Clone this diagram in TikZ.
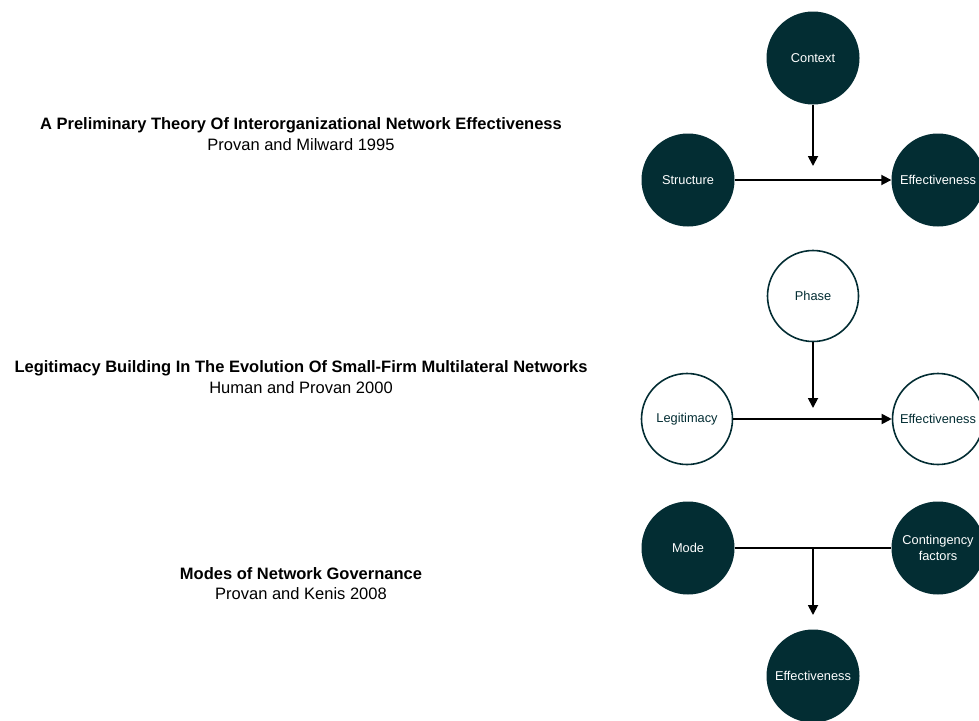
\documentclass[tikz,border=0pt]{standalone}
\usepackage{fontspec}
\setmainfont{Liberation Sans}
\usetikzlibrary{arrows.meta}
\definecolor{teal}{RGB}{3,45,51}
\begin{document}
\begin{tikzpicture}[x=1pt,y=-1pt,
  full/.style={circle,fill=teal,text=white,minimum size=93pt,inner sep=0pt,font=\fontsize{12.8}{16}\selectfont,align=center},
  hollow/.style={circle,draw=teal,line width=1.6pt,fill=white,text=teal,minimum size=91pt,inner sep=0pt,font=\fontsize{12.8}{16}\selectfont,align=center},
  conn/.style={line width=1.8pt,black},
  arr/.style={conn,-{Triangle[length=10pt,width=10pt]}},
  ttl/.style={font=\bfseries\fontsize{16.5}{20}\selectfont,align=center},
  sub/.style={font=\fontsize{16.5}{20}\selectfont,align=center}]
\useasboundingbox[fill=white] (0,0) rectangle (979,720);
% titles
\node[ttl] (t1) at (301,125) {A Preliminary Theory Of Interorganizational Network Effectiveness};
\node[sub] (s1) at (301,145) {Provan and Milward 1995};
\node[ttl] (t2) at (301,368) {Legitimacy Building In The Evolution Of Small-Firm Multilateral Networks};
\node[sub] (s2) at (301,388) {Human and Provan 2000};
\node[ttl] (t3) at (301,574) {Modes of Network Governance};
\node[sub] (s3) at (301,594) {Provan and Kenis 2008};
% diagram 1
\node[full] (ctx) at (813,58) {Context};
\node[full] (str) at (688,180) {Structure};
\node[full] (eff1) at (938,180) {Effectiveness};
\draw[arr] (str) -- (eff1);
\coordinate (m1) at (813,166);
\draw[arr] (ctx) -- (m1);
% diagram 2
\node[hollow] (pha) at (813,296) {Phase};
\node[hollow] (leg) at (687,419) {Legitimacy};
\node[hollow] (eff2) at (938,419) {Effectiveness};
\draw[arr] (leg) -- (eff2);
\coordinate (m2) at (813,408);
\draw[arr] (pha) -- (m2);
% diagram 3
\node[full] (mod) at (688,548) {Mode};
\node[full] (con) at (938,548) {Contingency\\factors};
\node[full] (eff3) at (813,676) {Effectiveness};
\draw[conn] (mod) -- (con);
\coordinate (j3) at (813,548);
\coordinate (m3) at (813,615);
\draw[arr] (j3) -- (m3);
\end{tikzpicture}
\end{document}
